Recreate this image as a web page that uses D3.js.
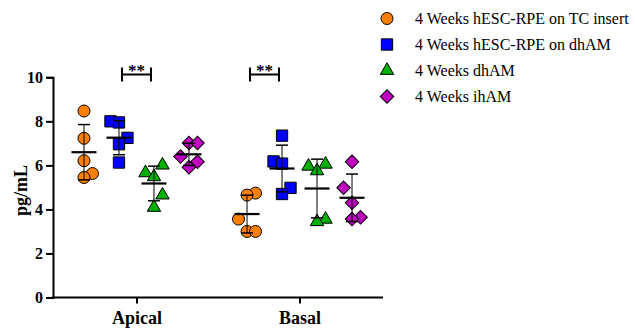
<!DOCTYPE html>
<html>
<head>
<meta charset="utf-8">
<script src="https://cdn.jsdelivr.net/npm/d3@7"></script>
<style>
  html, body { margin: 0; padding: 0; background: #ffffff; }
  svg { display: block; }
</style>
</head>
<body>
<svg id="chart" width="635" height="329"></svg>
<script>
// Groups along the x axis and the four sample series
const groups = ["Apical", "Basal"];
const seriesNames = [
  "4 Weeks hESC-RPE on TC insert",
  "4 Weeks hESC-RPE on dhAM",
  "4 Weeks dhAM",
  "4 Weeks ihAM"
];
const seriesColors = ["#FF8000", "#0000FF", "#00B000", "#C000C0"];
const seriesShapes = ["circle", "square", "triangle", "diamond"];

// Individual measurements (pg/mL), five replicates per series
const apicalValues = [
  [8.47, 7.23, 6.21, 5.63, 5.45],
  [8.00, 7.95, 7.25, 6.96, 6.13],
  [6.01, 5.66, 5.48, 4.65, 4.09],
  [7.02, 7.02, 6.40, 6.16, 5.91]
];
const basalValues = [
  [4.74, 4.65, 3.56, 3.00, 3.00],
  [7.35, 6.18, 6.08, 4.98, 4.70],
  [6.05, 5.96, 5.75, 3.55, 3.44],
  [6.16, 4.98, 4.30, 3.64, 3.56]
];

const yTicks = [0, 2, 4, 6, 8, 10];
const yLabel = "pg/mL";

// Significance brackets: group, first series, second series, label
const sigGroups = ["Apical", "Basal"];
const sigFrom = [1, 0];
const sigTo = [2, 1];
const sigLabels = ["**", "**"];

const valuesByGroup = { Apical: apicalValues, Basal: basalValues };
const FONT = "'Liberation Serif', 'Times New Roman', serif";

const svg = d3.select("#chart");

const y = d3.scaleLinear().domain([0, 10]).range([297.5, 77.3]);
const x = d3.scalePoint().domain(groups).range([53, 383]).padding(0.512);
const xs = d3.scalePoint().domain(d3.range(seriesNames.length)).range([-52.5, 52.5]);

// Marker shapes
function markerPath(shape) {
  if (shape === "circle") return d3.symbol(d3.symbolCircle, 113)();
  if (shape === "square") return d3.symbol(d3.symbolSquare, 128)();
  if (shape === "triangle") return d3.symbol(d3.symbolTriangle, 78)();
  return d3.symbol(d3.symbolSquare, 92)();
}
function markerRotate(shape) { return shape === "diamond" ? 45 : 0; }

// Spread overlapping points sideways (lowest first, alternating sides)
function dodge(vals, thresh, step) {
  const order = vals.map((v, i) => i).sort((a, b) => vals[a] - vals[b]);
  const placed = [];
  const offs = new Array(vals.length).fill(0);
  let side = 1;
  for (const i of order) {
    const py = y(vals[i]);
    const free = k => placed.every(p => p.k !== k || Math.abs(p.py - py) >= thresh);
    let k = 0;
    if (!free(0)) {
      const cands = [side, -side, 2 * side, -2 * side];
      k = cands.find(free) ?? side;
      side = -side;
    }
    placed.push({ k, py });
    offs[i] = k * step;
  }
  return offs;
}

// Y axis
const yAxis = d3.axisLeft(y).tickValues(yTicks).tickSize(7).tickPadding(3).tickFormat(d3.format("d"));
const gy = svg.append("g").attr("transform", "translate(53,0)").call(yAxis);
gy.attr("font-family", FONT);
gy.select(".domain").attr("stroke", "#000").attr("stroke-width", 2);
gy.selectAll(".tick line").attr("stroke", "#000").attr("stroke-width", 2);
gy.selectAll(".tick text").attr("font-size", 16).attr("font-weight", "bold")
  .attr("font-family", FONT).attr("fill", "#000");

// X axis
const xAxis = d3.axisBottom(x).tickSize(6).tickPadding(8).tickSizeOuter(0);
const gx = svg.append("g").attr("transform", `translate(0,${y(0)})`).call(xAxis);
gx.attr("font-family", FONT);
gx.select(".domain").attr("stroke", "#000").attr("stroke-width", 2).attr("d", "M52,0H383");
gx.selectAll(".tick line").attr("stroke", "#000").attr("stroke-width", 2);
gx.selectAll(".tick text").attr("font-size", 18).attr("font-weight", "bold")
  .attr("font-family", FONT).attr("fill", "#000");

// Y axis title
svg.append("text")
  .attr("transform", `translate(27,${(y(0) + y(10)) / 2 + 3}) rotate(-90)`)
  .attr("text-anchor", "middle")
  .attr("font-family", FONT)
  .attr("font-size", 18).attr("font-weight", "bold")
  .text(yLabel);

// Points, mean and SD for every group/series
const plot = svg.append("g");
groups.forEach(g => {
  valuesByGroup[g].forEach((vals, s) => {
    const cx = x(g) + xs(s);
    const offs = dodge(vals, 15.5, 8.5);
    plot.append("g").selectAll("path").data(vals).join("path")
      .attr("d", markerPath(seriesShapes[s]))
      .attr("transform", (v, i) => `translate(${cx + offs[i]},${y(v)}) rotate(${markerRotate(seriesShapes[s])})`)
      .attr("fill", seriesColors[s])
      .attr("stroke", "#000").attr("stroke-width", 1);
  });
});
groups.forEach(g => {
  valuesByGroup[g].forEach((vals, s) => {
    const cx = x(g) + xs(s);
    const m = d3.mean(vals), sd = d3.deviation(vals);
    const eg = plot.append("g").attr("stroke", "#000");
    eg.append("line").attr("x1", cx).attr("x2", cx).attr("y1", y(m + sd)).attr("y2", y(m - sd)).attr("stroke-width", 1);
    [m + sd, m - sd].forEach(v => {
      eg.append("line").attr("x1", cx - 6).attr("x2", cx + 6).attr("y1", y(v)).attr("y2", y(v)).attr("stroke-width", 1.5);
    });
    eg.append("line").attr("x1", cx - 12.5).attr("x2", cx + 12.5).attr("y1", y(m)).attr("y2", y(m)).attr("stroke-width", 2.2);
  });
});

// Significance brackets
sigGroups.forEach((g, i) => {
  const x1 = x(g) + xs(sigFrom[i]) + 3, x2 = x(g) + xs(sigTo[i]) - 3;
  const by = 74.5;
  const bg = svg.append("g").attr("stroke", "#000").attr("stroke-width", 2);
  bg.append("line").attr("x1", x1).attr("x2", x2).attr("y1", by).attr("y2", by);
  bg.append("line").attr("x1", x1).attr("x2", x1).attr("y1", by - 7).attr("y2", by + 7);
  bg.append("line").attr("x1", x2).attr("x2", x2).attr("y1", by - 7).attr("y2", by + 7);
  svg.append("text").attr("x", (x1 + x2) / 2).attr("y", by + 1)
    .attr("text-anchor", "middle").attr("font-family", FONT)
    .attr("font-size", 17).attr("font-weight", "bold")
    .text(sigLabels[i]);
});

// Legend
const legend = svg.append("g").attr("transform", "translate(387,18.5)");
seriesNames.forEach((name, i) => {
  const row = legend.append("g").attr("transform", `translate(0,${i * 26})`);
  row.append("path")
    .attr("d", markerPath(seriesShapes[i]))
    .attr("transform", `rotate(${markerRotate(seriesShapes[i])})`)
    .attr("fill", seriesColors[i]).attr("stroke", "#000").attr("stroke-width", 1);
  row.append("text").attr("x", 28).attr("y", 5.5)
    .attr("font-family", FONT)
    .attr("font-size", 16)
    .text(name);
});
</script>
</body>
</html>
